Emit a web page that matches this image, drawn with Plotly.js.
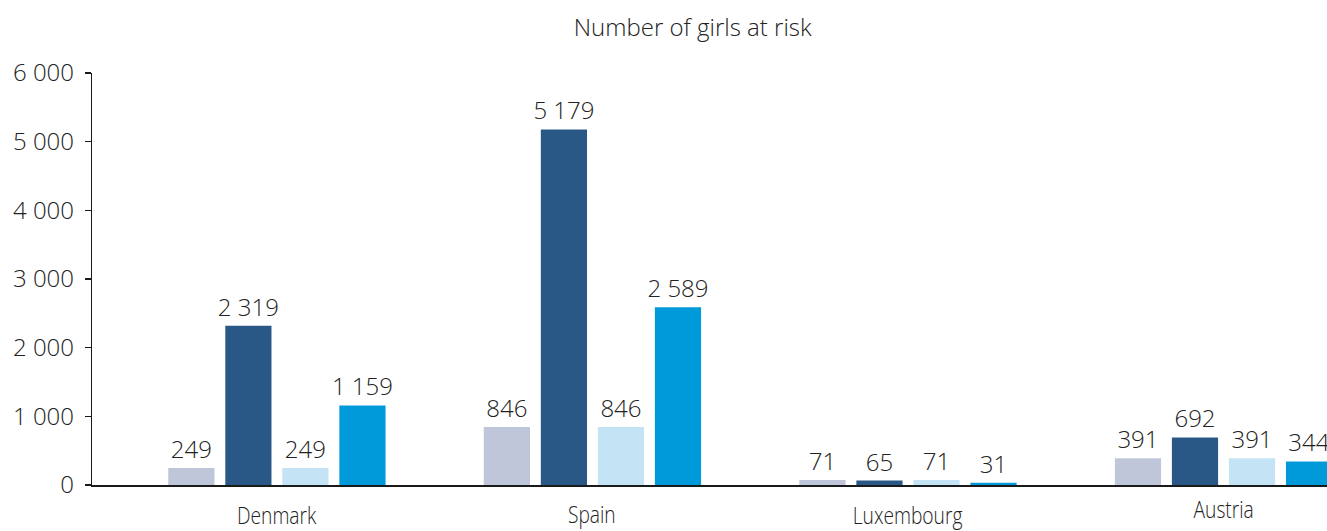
<!DOCTYPE html>
<html>
<head>
<meta charset="utf-8">
<script src="https://cdn.plot.ly/plotly-3.0.1.min.js"></script>
<style>
  html, body { margin: 0; padding: 0; background: #fff; }
  #chart { width: 1327px; height: 531px; }
  /* narrow, condensed look for the country names */
  #chart .annotation-text {
    transform-box: fill-box;
    transform-origin: center;
    transform: scaleX(0.8);
  }
</style>
</head>
<body>
<div id="chart"></div>
<script>
// Countries along the category axis
const countries = ['Denmark', 'Spain', 'Luxembourg', 'Austria'];

// Four estimates of girls at risk, one value per country
const seriesA = [249, 846, 71, 391];
const seriesB = [2319, 5179, 65, 692];
const seriesC = [249, 846, 71, 391];
const seriesD = [1159, 2589, 31, 344];

const seriesNames = ['Estimate A', 'Estimate B', 'Estimate C', 'Estimate D'];
const seriesColors = ['#c0c6da', '#2a5886', '#c4e3f4', '#009ada'];

// Vertical offsets (px) of the country names below the axis
const labelShift = [-11, -10, -11, -5];

const textColor = '#222222';
const baseFont = 'Open Sans, Noto Sans, sans-serif';

const allSeries = [seriesA, seriesB, seriesC, seriesD];
const traces = allSeries.map((vals, i) => ({
  type: 'bar',
  name: seriesNames[i],
  x: countries,
  y: vals,
  marker: { color: seriesColors[i], line: { width: 0 } },
  texttemplate: '%{y:,}',
  textposition: 'outside',
  constraintext: 'none',
  cliponaxis: false,
  textfont: { family: baseFont, size: 24, weight: 300, color: textColor },
  hoverinfo: 'x+y'
}));

const countryLabels = countries.map((c, i) => ({
  xref: 'x', yref: 'y',
  x: c, y: 0,
  xanchor: 'center', yanchor: 'top',
  yshift: labelShift[i],
  showarrow: false,
  text: c,
  font: { family: baseFont, size: 24, weight: 300, color: textColor }
}));

const layout = {
  width: 1327,
  height: 531,
  margin: { l: 92, r: 0, t: 73, b: 46, pad: 0 },
  paper_bgcolor: '#ffffff',
  plot_bgcolor: '#ffffff',
  separators: ', ',
  showlegend: false,
  barmode: 'group',
  bargap: 0.277,
  bargroupgap: 0.19,
  title: {
    text: 'Number of girls at risk',
    font: { family: baseFont, size: 24, weight: 300, color: textColor },
    xref: 'container', x: 0.522, xanchor: 'center',
    yref: 'container', y: 1 - 28 / 531, yanchor: 'middle'
  },
  xaxis: {
    type: 'category',
    range: [-0.586, 3.328],
    showticklabels: false,
    ticks: '',
    showline: true,
    linecolor: '#1a1a1a',
    linewidth: 1.5,
    showgrid: false,
    zeroline: false,
    fixedrange: true
  },
  yaxis: {
    range: [0, 6000],
    dtick: 1000,
    tick0: 0,
    tickformat: ',',
    ticks: 'outside',
    ticklen: 6,
    tickwidth: 1.2,
    tickcolor: '#1a1a1a',
    ticklabelstandoff: 6,
    tickfont: { family: baseFont, size: 24, weight: 300, color: textColor },
    showline: true,
    linecolor: '#1a1a1a',
    linewidth: 1.2,
    showgrid: false,
    zeroline: false,
    fixedrange: true
  },
  annotations: countryLabels
};

Plotly.newPlot('chart', traces, layout, { displayModeBar: false, staticPlot: true });
</script>
</body>
</html>
